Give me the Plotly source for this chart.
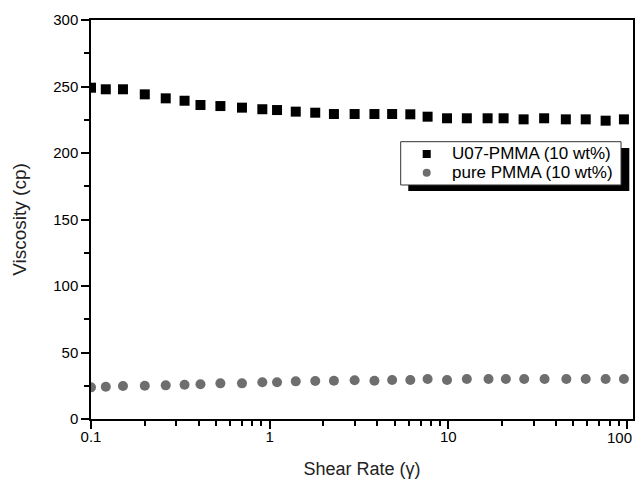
import plotly.graph_objects as go

# Shear rate values (1/s)
shear_u07 = [0.1, 0.121, 0.151, 0.2, 0.262, 0.334, 0.41, 0.53, 0.70, 0.91, 1.10, 1.40,
             1.80, 2.29, 2.99, 3.86, 4.85, 6.13, 7.66, 9.84, 12.7, 16.6, 20.4, 26.4,
             34.4, 45.5, 58.8, 76.0, 96.2]
visc_u07 = [249.1, 247.9, 247.9, 244.1, 241.1, 239.3, 236.1, 235.3, 234.1, 232.9, 232.3, 231.1,
            230.3, 229.3, 229.3, 229.3, 229.3, 229.1, 227.3, 226.1, 226.1, 226.1, 226.1, 225.3,
            226.1, 225.3, 225.3, 224.3, 225.3]

shear_pure = [0.1, 0.121, 0.151, 0.2, 0.262, 0.334, 0.41, 0.53, 0.70, 0.91, 1.10, 1.40,
              1.80, 2.29, 2.99, 3.86, 4.85, 6.13, 7.66, 9.84, 12.7, 16.8, 21.0, 26.6,
              34.6, 45.8, 58.8, 76.0, 96.2]
visc_pure = [23.8, 24.3, 24.8, 25.0, 25.3, 25.8, 26.1, 26.8, 26.8, 27.6, 27.6, 28.3,
             28.6, 28.8, 29.1, 28.8, 29.3, 29.3, 30.1, 29.3, 30.1, 30.1, 30.1, 30.1,
             30.1, 30.1, 30.1, 30.1, 30.1]

x_tickvals = [0.1, 1, 10, 100]
x_ticktext = ["0.1", "1", "10", ""]   # the last label is placed separately (nudged inward)
x_last_label = "100"

name_u07 = "U07-PMMA (10 wt%)"
name_pure = "pure PMMA (10 wt%)"

FONT = "Liberation Sans, Arial, sans-serif"
COL_U07 = "black"
COL_PURE = "#6e6e6e"

fig = go.Figure()
fig.add_trace(go.Scatter(x=shear_u07, y=visc_u07, mode="markers", name=name_u07,
                         marker=dict(symbol="square", size=10, color=COL_U07)))
fig.add_trace(go.Scatter(x=shear_pure, y=visc_pure, mode="markers", name=name_pure,
                         marker=dict(symbol="circle", size=10, color=COL_PURE)))

axis_common = dict(showline=True, linecolor="black", linewidth=1.5, mirror=True,
                   showgrid=False, zeroline=False, ticks="outside", ticklen=8,
                   tickwidth=1.5, tickcolor="black", automargin=False,
                   tickfont=dict(family=FONT, size=15, color="black"))

fig.update_xaxes(type="log", range=[-1, 2.034], tickvals=x_tickvals, ticktext=x_ticktext,
                 ticklabelstandoff=-5,
                 minor=dict(ticks="outside", ticklen=5, tickwidth=1.5, tickcolor="black",
                            dtick="D1", showgrid=False),
                 title=dict(text="Shear Rate (\u03b3)", font=dict(family=FONT, size=18, color="#222"),
                            standoff=19),
                 **axis_common)
fig.update_yaxes(range=[0, 300], dtick=50,
                 minor=dict(ticks="outside", ticklen=5, tickwidth=1.5, tickcolor="black",
                            dtick=25, showgrid=False),
                 title=dict(text="Viscosity (cp)", font=dict(family=FONT, size=19, color="#222"),
                            standoff=22),
                 **axis_common)

# last x tick label, nudged left so it stays inside the page (as in the original)
fig.add_annotation(xref="x", yref="paper", x=2, y=0, xanchor="center", yanchor="top",
                   xshift=-7, yshift=-8, text=x_last_label, showarrow=False,
                   font=dict(family=FONT, size=15, color="black"))

# Custom legend box (with drop shadow), in plot-area paper coordinates
fig.add_shape(type="rect", xref="paper", yref="paper",
              x0=0.5854, x1=0.9932, y0=0.5714, y1=0.6792,
              fillcolor="black", line=dict(width=0), layer="above")
fig.add_shape(type="rect", xref="paper", yref="paper",
              x0=0.5714, x1=0.9779, y0=0.5865, y1=0.695,
              fillcolor="white", line=dict(color="#333", width=1), layer="above")
fig.add_shape(type="rect", xref="paper", yref="paper",
              x0=0.6120, x1=0.6268, y0=0.6541, y1=0.6742,
              fillcolor=COL_U07, line=dict(width=0), layer="above")
fig.add_shape(type="circle", xref="paper", yref="paper",
              x0=0.6120, x1=0.6268, y0=0.6073, y1=0.6273,
              fillcolor=COL_PURE, line=dict(width=0), layer="above")
fig.add_annotation(xref="paper", yref="paper", x=0.6624, y=0.6642, xanchor="left",
                   yanchor="middle", text=name_u07, showarrow=False,
                   font=dict(family=FONT, size=17, color="black"))
fig.add_annotation(xref="paper", yref="paper", x=0.6624, y=0.6173, xanchor="left",
                   yanchor="middle", text=name_pure, showarrow=False,
                   font=dict(family=FONT, size=17, color="black"))

fig.update_layout(
    width=639, height=480,
    margin=dict(l=91, r=6, t=20, b=61),
    plot_bgcolor="white", paper_bgcolor="white",
    showlegend=False,
)

# remove the default 8px body margin so the figure sits at the page origin
fig.write_html("out.html", config={"displayModeBar": False},
               post_script="document.body.style.margin='0';")
